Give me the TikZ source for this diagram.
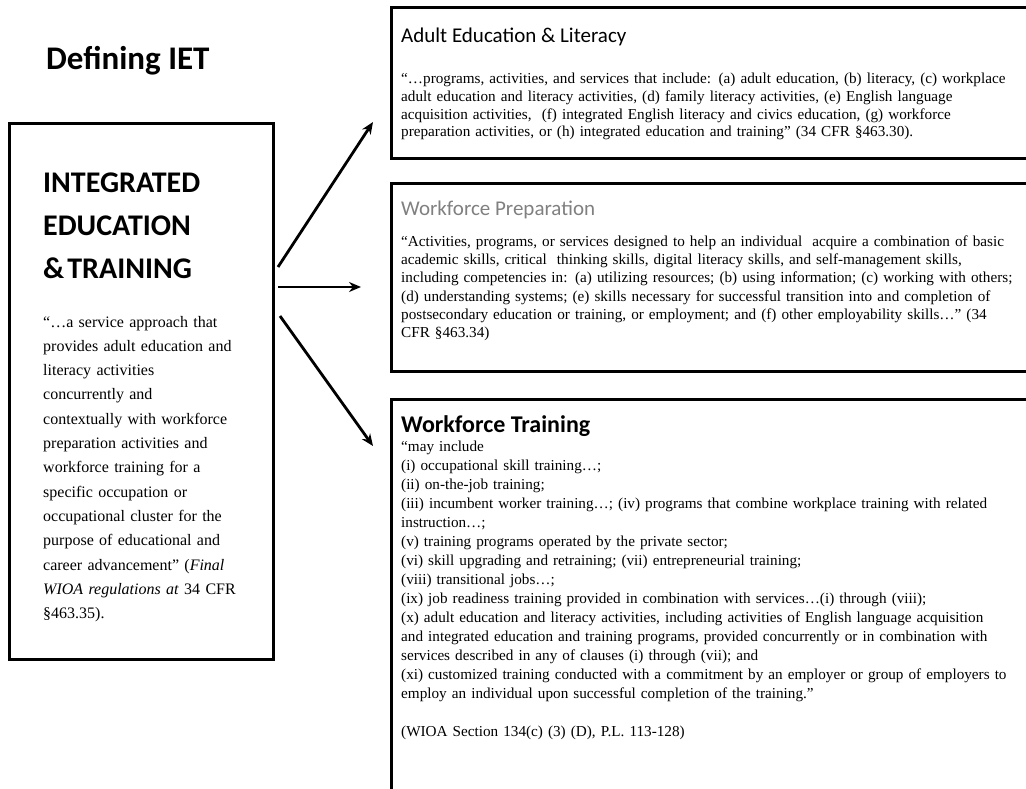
\documentclass[tikz,border=0pt]{standalone}
\usepackage{fontspec}
\setmainfont{Liberation Serif}
\newfontfamily\headfont{Carlito}
\usetikzlibrary{arrows.meta}

\begin{document}
\begin{tikzpicture}[x=1pt, y=-1pt,
    panel/.style = {draw, line width=2.6pt, anchor=north west, inner sep=0pt},
    head/.style = {anchor=base west, inner sep=0pt, font=\headfont\fontsize{21}{25}\selectfont},
    body/.style = {anchor=base west, inner sep=0pt, align=left, text width=#1},
    body/.default = 640pt,
    arr/.style = {line width=2.8pt, -{Stealth[length=12pt, width=10pt]}}]
    \useasboundingbox (0,0) rectangle (1026,789);
    \clip (0,0) rectangle (1026,789);

    \node[anchor=base west, inner sep=0pt, font=\headfont\bfseries\fontsize{33}{40}\selectfont] (deftitle) at (46,70) {Defining IET};

    \node[panel, minimum width=264pt, minimum height=536pt] (iet) at (8,122) {};
    \node[body=228pt, font=\headfont\bfseries\fontsize{30}{43}\selectfont] (ietname) at (43,193) {INTEGRATED\\EDUCATION\\\&\hspace{3pt}TRAINING};
    \node[body=228pt, font=\fontsize{16}{24.3}\selectfont] (ietdef) at (43,327) {“…a service approach that\\provides adult education and\\literacy activities\\concurrently and\\contextually with workforce\\preparation activities and\\workforce training for a\\specific occupation or\\occupational cluster for the\\purpose of educational and\\career advancement” (\textit{Final}\\\textit{WIOA regulations at} 34 CFR\\§463.35).};

    \node[panel, minimum width=660pt, minimum height=151pt] (adult) at (390,6) {};
    \node[head] (adulttitle) at (401,43) {Adult Education \& Literacy};
    \node[body, font=\fontsize{15.2}{17.6}\selectfont] (adulttext) at (401,84) {“…programs, activities, and services that include: (a) adult education, (b) literacy, (c) workplace\\adult education and literacy activities, (d) family literacy activities, (e) English language\\acquisition activities,~ (f) integrated English literacy and civics education, (g) workforce\\preparation activities, or (h) integrated education and training” (34 CFR §463.30).};

    \node[panel, minimum width=660pt, minimum height=188pt] (prep) at (390,182) {};
    \node[head, text=black!50] (preptitle) at (401,215) {Workforce Preparation};
    \node[body, font=\fontsize{15.2}{18.4}\selectfont] (preptext) at (401,246) {“Activities, programs, or services designed to help an individual~ acquire a combination of basic\\academic skills, critical~ thinking skills, digital literacy skills, and self-management skills,\\including competencies in: (a) utilizing resources; (b) using information; (c) working with others;\\(d) understanding systems; (e) skills necessary for successful transition into and completion of\\postsecondary education or training, or employment; and (f) other employability skills…” (34\\CFR §463.34)};

    \node[panel, minimum width=660pt, minimum height=430pt] (train) at (390,398) {};
    \node[head, font=\headfont\bfseries\fontsize{24}{28}\selectfont] (traintitle) at (401,432) {Workforce Training};
    \node[body, font=\fontsize{15.2}{19}\selectfont] (traintext) at (401,451) {“may include\\(i) occupational skill training…;\\(ii) on-the-job training;\\(iii) incumbent worker training…; (iv) programs that combine workplace training with related\\instruction…;\\(v) training programs operated by the private sector;\\(vi) skill upgrading and retraining; (vii) entrepreneurial training;\\(viii) transitional jobs…;\\(ix) job readiness training provided in combination with services…(i) through (viii);\\(x) adult education and literacy activities, including activities of English language acquisition\\and integrated education and training programs, provided concurrently or in combination with\\services described in any of clauses (i) through (vii); and\\(xi) customized training conducted with a commitment by an employer or group of employers to\\employ an individual upon successful completion of the training.”\\[19pt](WIOA Section 134(c) (3) (D), P.L. 113-128)};

    \coordinate (o1) at (278,267);
    \coordinate (t1) at (373,122);
    \coordinate (o2) at (278,287);
    \coordinate (t2) at (361,287);
    \coordinate (o3) at (280,316);
    \coordinate (t3) at (373,446);
    \draw[arr] (o1) -- (t1);
    \draw[arr] (o2) -- (t2);
    \draw[arr] (o3) -- (t3);
\end{tikzpicture}
\end{document}
